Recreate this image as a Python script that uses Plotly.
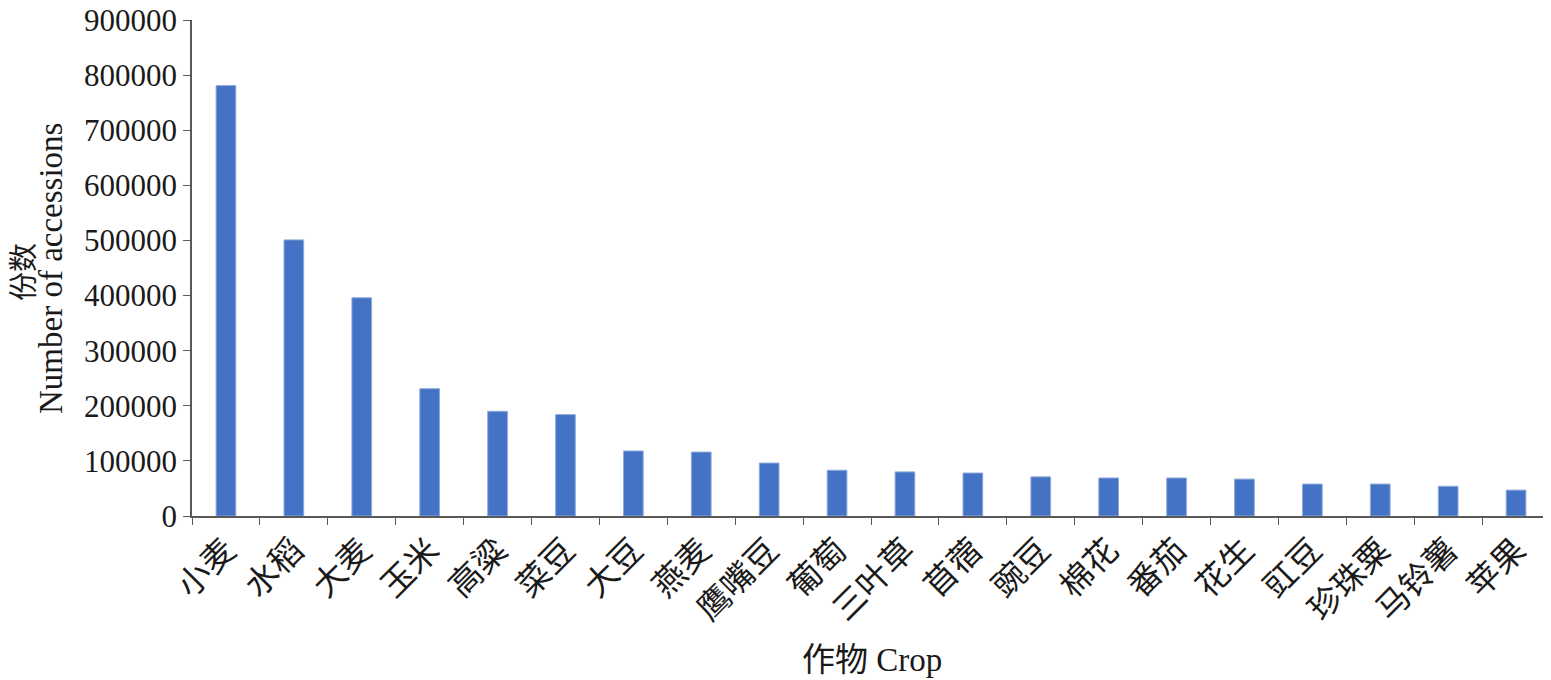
import plotly.graph_objects as go

crops = ['小麦', '水稻', '大麦', '玉米', '高粱', '菜豆', '大豆', '燕麦', '鹰嘴豆', '葡萄',
         '三叶草', '苜蓿', '豌豆', '棉花', '番茄', '花生', '豇豆', '珍珠粟', '马铃薯', '苹果']
accessions = [781000, 501000, 396000, 231000, 190000, 184000, 118000, 116000, 96000, 83000,
              80000, 78000, 71000, 69000, 69000, 67000, 58000, 58000, 54000, 47000]

FONT = 'Liberation Serif, Times New Roman, Noto Sans CJK SC, serif'
AXIS_COLOR = '#595959'

# the page body has an 8px margin, so the figure is drawn from (8, 8) of the window
OFF = 8
W, H = 1551 - OFF, 680 - OFF
# plot area in window pixels (left, top, right, bottom) -> figure pixels
L, T, R, B = 192 - OFF, 20 - OFF, 1550 - OFF, 516 - OFF
pw, ph = R - L, B - T

fig = go.Figure()
fig.add_trace(go.Bar(
    x=crops, y=accessions,
    marker=dict(color='#4472C4', line=dict(color='#8FAADC', width=1)),
    width=0.29,
    showlegend=False,
))

fig.update_layout(
    width=W, height=H,
    margin=dict(l=L, r=W - R, t=T, b=H - B),
    plot_bgcolor='white', paper_bgcolor='white',
    font=dict(family=FONT, color='#1a1a1a', size=32),
)
fig.update_xaxes(
    type='category',
    tickangle=-45,
    tickfont=dict(size=33),
    ticks='outside', tickson='boundaries', ticklen=7, tickcolor=AXIS_COLOR,
    showline=True, linecolor=AXIS_COLOR, linewidth=1.5,
    automargin=False,
)
fig.update_yaxes(
    range=[0, 900000], dtick=100000,
    tickformat='d',
    showgrid=False, zeroline=False,
    ticks='outside', ticklen=7, tickcolor=AXIS_COLOR,
    showline=True, linecolor=AXIS_COLOR, linewidth=1.5,
    tickfont=dict(size=31),
    ticklabeloverflow='allow',
    automargin=False,
)

# axis titles (positions given in window pixels)
fig.add_annotation(text='份数', textangle=-90, showarrow=False,
                   xref='paper', yref='paper',
                   x=(24 - OFF - L) / pw, y=(B - (272 - OFF)) / ph,
                   xanchor='center', yanchor='middle', font=dict(size=29))
fig.add_annotation(text='Number of accessions', textangle=-90, showarrow=False,
                   xref='paper', yref='paper',
                   x=(51 - OFF - L) / pw, y=(B - (269 - OFF)) / ph,
                   xanchor='center', yanchor='middle', font=dict(size=33))
fig.add_annotation(text='作物 Crop', showarrow=False,
                   xref='paper', yref='paper',
                   x=(872 - OFF - L) / pw, y=(B - (660 - OFF)) / ph,
                   xanchor='center', yanchor='middle', font=dict(size=33))

fig.write_html('out.html')
